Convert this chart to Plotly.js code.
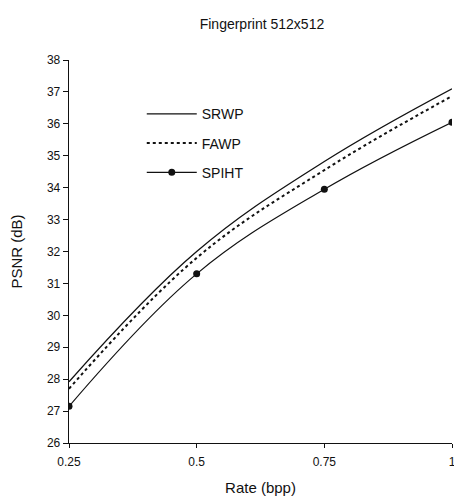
<!DOCTYPE html>
<html>
<head>
<meta charset="utf-8">
<script src="https://cdn.plot.ly/plotly-3.0.1.min.js"></script>
<style>html,body{margin:0;padding:0;background:#fff;}#chart{width:454px;height:499px;}</style>
</head>
<body>
<div id="chart"></div>
<script>
const rates = [0.25, 0.5, 0.75, 1];
const srwp = [27.92, 32.0, 34.82, 37.1];
const fawp = [27.7, 31.8, 34.55, 36.87];
const spiht = [27.15, 31.3, 33.95, 36.05];
const xTicks = [0.25, 0.5, 0.75, 1];
const xTickText = ['0.25', '0.5', '0.75', '1'];
const yTicks = [26, 27, 28, 29, 30, 31, 32, 33, 34, 35, 36, 37, 38];

const traces = [
  {x: rates, y: srwp, name: 'SRWP', mode: 'lines', legendgroup: 'a',
   line: {color: '#111', width: 1.3, shape: 'spline', smoothing: 1.1}},
  {x: rates, y: fawp, name: 'FAWP', mode: 'lines', legendgroup: 'b',
   line: {color: '#111', width: 2, dash: 'dot', shape: 'spline', smoothing: 1.1}},
  {x: rates, y: spiht, name: 'SPIHT', mode: 'lines+markers', legendgroup: 'c',
   line: {color: '#111', width: 1.2, shape: 'spline', smoothing: 1.1},
   marker: {color: '#111', size: 7, symbol: 'circle'}}
];

const layout = {
  width: 454, height: 499,
  margin: {l: 69, r: 2, t: 60, b: 56},
  paper_bgcolor: '#fff', plot_bgcolor: '#fff',
  font: {family: 'Liberation Sans, Arial, sans-serif', color: '#111', size: 12},
  title: {text: 'Fingerprint 512x512', x: 0.577, xanchor: 'center', y: 0.952, yanchor: 'middle',
          font: {size: 14, color: '#111'}},
  showlegend: true,
  legend: {x: 0.19, y: 0.9, xanchor: 'left', yanchor: 'top', bgcolor: 'rgba(0,0,0,0)',
           font: {size: 14, color: '#111'}, itemwidth: 50, tracegroupgap: 8, traceorder: 'grouped'},
  xaxis: {range: [0.25, 1], tickvals: xTicks, ticktext: xTickText, showgrid: false, zeroline: false,
          showline: true, linecolor: '#111', linewidth: 1.3, ticks: 'outside', ticklen: 4,
          tickcolor: '#111', tickfont: {size: 12}, automargin: false, ticklabeloverflow: 'allow',
          ticklabelstandoff: 3,
          title: {text: 'Rate (bpp)', font: {size: 15}, standoff: 14}},
  yaxis: {range: [26, 38], tickvals: yTicks, showgrid: false, zeroline: false,
          showline: true, linecolor: '#111', linewidth: 1.3, ticks: 'outside', ticklen: 5,
          tickcolor: '#111', tickfont: {size: 12}, automargin: false,
          title: {text: 'PSNR (dB)', font: {size: 15}, standoff: 20}}
};

Plotly.newPlot('chart', traces, layout, {staticPlot: true, displayModeBar: false});
</script>
</body>
</html>
